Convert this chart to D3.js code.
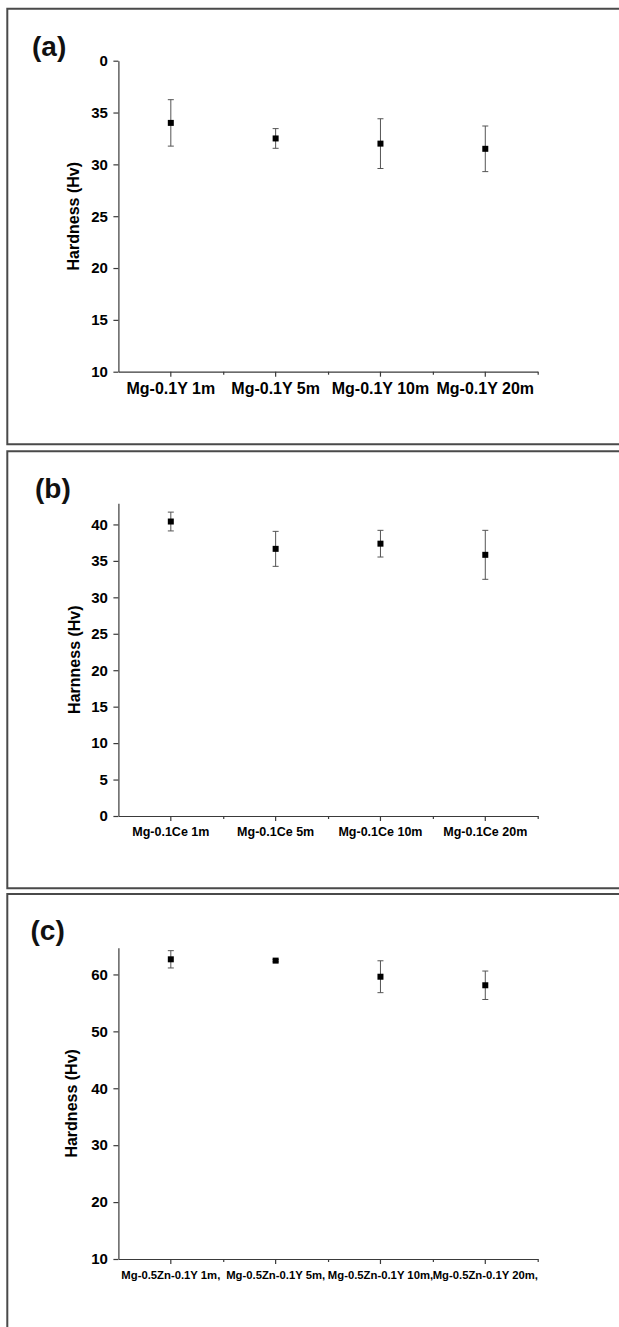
<!DOCTYPE html>
<html>
<head>
<meta charset="utf-8">
<script src="https://cdn.jsdelivr.net/npm/d3@7"></script>
<style>
  html, body { margin: 0; background: #fff; overflow: hidden; }
  svg { display: block; }
  text { font-family: "Liberation Sans", Arial, sans-serif; font-weight: bold; fill: #000; }
</style>
</head>
<body>
<div id="chart"></div>
<script>
// panel (a)
const categoriesA = ["Mg-0.1Y 1m", "Mg-0.1Y 5m", "Mg-0.1Y 10m", "Mg-0.1Y 20m"];
const hardnessA = [34.0, 32.5, 32.0, 31.5];
const errorA = [2.24, 0.95, 2.4, 2.2];
const yTicksA = [10, 15, 20, 25, 30, 35, 40];
const yTickLabelsA = ["10", "15", "20", "25", "30", "35", "0"];

// panel (b)
const categoriesB = ["Mg-0.1Ce 1m", "Mg-0.1Ce 5m", "Mg-0.1Ce 10m", "Mg-0.1Ce 20m"];
const hardnessB = [40.4, 36.65, 37.36, 35.83];
const errorB = [1.29, 2.4, 1.83, 3.36];
const yTicksB = [0, 5, 10, 15, 20, 25, 30, 35, 40];

// panel (c)
const categoriesC = ["Mg-0.5Zn-0.1Y 1m,", "Mg-0.5Zn-0.1Y 5m,", "Mg-0.5Zn-0.1Y 10m,", "Mg-0.5Zn-0.1Y 20m,"];
const hardnessC = [62.66, 62.43, 59.6, 58.1];
const errorC = [1.52, 0.2, 2.8, 2.5];
const yTicksC = [10, 20, 30, 40, 50, 60];

const W = 619, H = 1327;

const svg = d3.select("#chart").append("svg")
    .attr("width", W)
    .attr("height", H);

const panels = [
    { label: "(a)", labelX: 32, labelY: 56, box: [8.7, 444.3],
      cats: categoriesA, vals: hardnessA, errs: errorA,
      domain: [10, 40], range: [371.7, 60.7], ticks: yTicksA, tickLabels: yTickLabelsA,
      yTitle: "Hardness (Hv)", yTitleX: 73.5,
      xFont: 16, xPad: 5.6 },
    { label: "(b)", labelX: 35, labelY: 498, box: [451.3, 888.3],
      cats: categoriesB, vals: hardnessB, errs: errorB,
      domain: [0, 42.9], range: [816, 503.3], ticks: yTicksB, tickLabels: null,
      yTitle: "Harnness (Hv)", yTitleX: 74.5,
      xFont: 12.5, xPad: 6.2 },
    { label: "(c)", labelX: 30.5, labelY: 940, box: [894, null],
      cats: categoriesC, vals: hardnessC, errs: errorC,
      domain: [10, 64.7], range: [1259, 947.7], ticks: yTicksC, tickLabels: null,
      yTitle: "Hardness (Hv)", yTitleX: 71,
      xFont: 11.3, xPad: 7 }
];

const x0 = 118.4, x1 = 537.7;

panels.forEach(p => {
    // frame (open on the right, as in the scan)
    const top = p.box[0], bottom = p.box[1] === null ? H + 5 : p.box[1];
    svg.append("path")
        .attr("d", `M${W + 2},${top}H7.3V${bottom}` + (p.box[1] === null ? "" : `H${W + 2}`))
        .attr("fill", "none")
        .attr("stroke", "#4a4a4a")
        .attr("stroke-width", 2);

    const x = d3.scaleBand().domain(p.cats).range([x0, x1]).padding(0);
    const xb = d3.scaleLinear().domain([0, p.cats.length]).range([x0, x1]);
    const y = d3.scaleLinear().domain(p.domain).range(p.range);
    const yBase = p.range[0];

    // y axis
    const yAxis = svg.append("g")
        .attr("transform", `translate(${x0},0)`)
        .call(d3.axisLeft(y)
            .tickValues(p.ticks)
            .tickSize(5)
            .tickSizeOuter(0)
            .tickPadding(5.5)
            .tickFormat((d, i) => p.tickLabels ? p.tickLabels[i] : d));
    yAxis.selectAll("text").style("font-size", "15px");

    // x minor ticks at band boundaries
    svg.append("g")
        .attr("transform", `translate(0,${yBase})`)
        .call(d3.axisBottom(xb).tickValues([1, 2, 3, 4]).tickSize(3).tickSizeOuter(0).tickFormat(""))
        .select(".domain").remove();

    // x axis
    const xAxis = svg.append("g")
        .attr("transform", `translate(0,${yBase})`)
        .call(d3.axisBottom(x).tickSize(5).tickSizeOuter(0).tickPadding(p.xPad));
    xAxis.selectAll("text").style("font-size", p.xFont + "px");

    svg.selectAll(".domain, .tick line")
        .attr("stroke", "#3a3a3a")
        .attr("stroke-width", 1.2);

    // y title
    svg.append("text")
        .attr("transform", `translate(${p.yTitleX},${(p.range[0] + p.range[1]) / 2}) rotate(-90)`)
        .attr("text-anchor", "middle")
        .attr("dominant-baseline", "central")
        .style("font-size", "16px")
        .text(p.yTitle);

    // panel label
    svg.append("text")
        .attr("x", p.labelX)
        .attr("y", p.labelY)
        .style("font-size", "28px")
        .style("fill", "#111")
        .text(p.label);

    const pts = p.cats.map((c, i) => ({ cat: c, v: p.vals[i], e: p.errs[i] }));
    const g = svg.append("g");

    // error bars
    g.selectAll(".err")
        .data(pts)
        .enter().append("path")
        .attr("class", "err")
        .attr("fill", "none")
        .attr("stroke", "#555")
        .attr("stroke-width", 1)
        .attr("d", d => {
            const cx = x(d.cat) + x.bandwidth() / 2;
            const yt = y(d.v + d.e), yb = y(d.v - d.e);
            return `M${cx - 3},${yt}H${cx + 3}M${cx},${yt}V${yb}M${cx - 3},${yb}H${cx + 3}`;
        });

    // markers
    g.selectAll(".pt")
        .data(pts)
        .enter().append("rect")
        .attr("class", "pt")
        .attr("x", d => x(d.cat) + x.bandwidth() / 2 - 3)
        .attr("y", d => y(d.v) - 3)
        .attr("width", 6)
        .attr("height", 6)
        .attr("fill", "#000");
});
</script>
</body>
</html>
